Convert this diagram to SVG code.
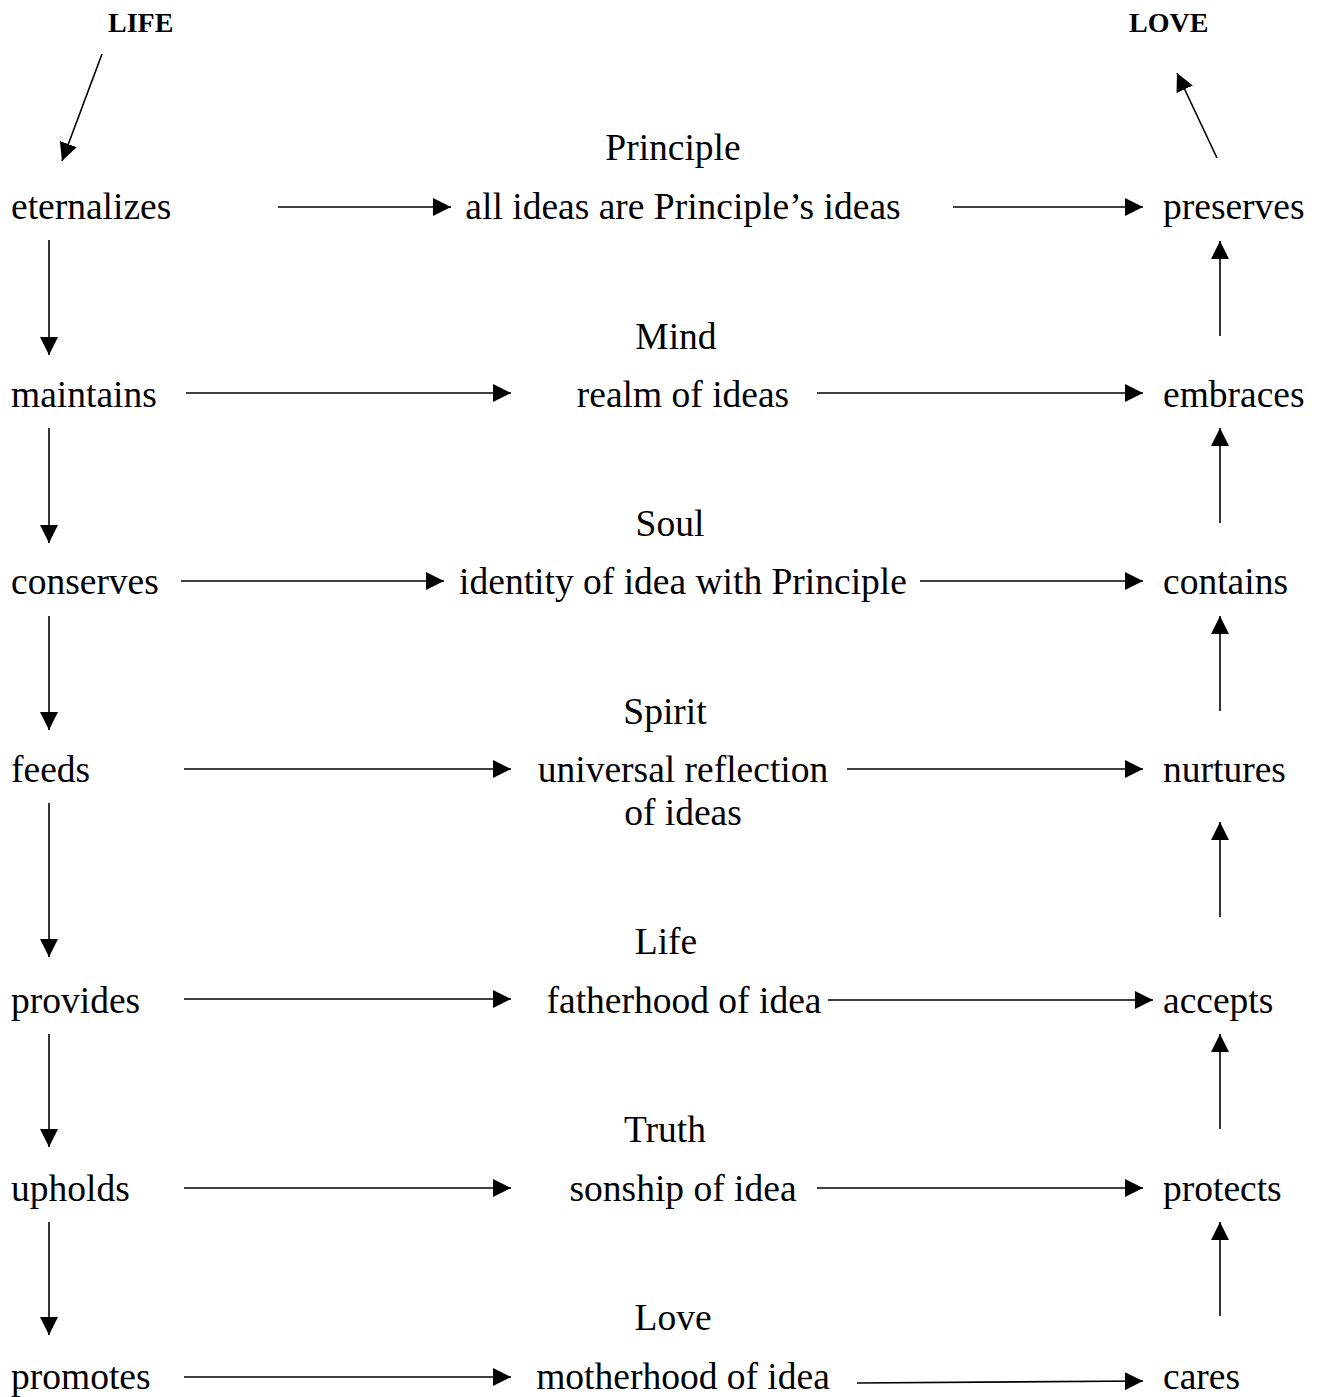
<svg xmlns="http://www.w3.org/2000/svg" width="1321" height="1397" viewBox="0 0 1321 1397">
<style>
text{font-family:"Liberation Serif","Times New Roman",serif;font-size:37.5px;fill:#000}
.b{font-weight:bold;font-size:28px}
.m{text-anchor:middle}
.c line{stroke:#000;stroke-width:1.6;fill:none;marker-end:url(#ah)}
</style>
<defs>
<marker id="ah" markerUnits="userSpaceOnUse" markerWidth="18" markerHeight="18" viewBox="0 0 16 16" refX="16" refY="8" orient="auto">
<path d="M0,0 L16,8 L0,16 z" fill="#000"/>
</marker>
</defs>
<rect width="1321" height="1397" fill="#fff"/>
<g id="heads">
<text id="LIFE" class="b" x="108" y="32">LIFE</text>
<text id="LOVE" class="b" x="1129" y="32">LOVE</text>
</g>
<g id="left">
<text id="eternalizes" x="11" y="219">eternalizes</text>
<text id="maintains" x="11" y="407">maintains</text>
<text id="conserves" x="11" y="594">conserves</text>
<text id="feeds" x="11" y="782">feeds</text>
<text id="provides" x="11" y="1013">provides</text>
<text id="upholds" x="11" y="1201">upholds</text>
<text id="promotes" x="11" y="1389">promotes</text>
</g>
<g id="middle">
<g id="n-principle"><text class="m" x="673" y="160">Principle</text><text class="m" x="683" y="219">all ideas are Principle’s ideas</text></g>
<g id="n-mind"><text class="m" x="676" y="349">Mind</text><text class="m" x="683" y="407">realm of ideas</text></g>
<g id="n-soul"><text class="m" x="670" y="536">Soul</text><text class="m" x="683" y="594">identity of idea with Principle</text></g>
<g id="n-spirit"><text class="m" x="665" y="724">Spirit</text><text class="m" x="683" y="782">universal reflection</text><text class="m" x="683" y="825">of ideas</text></g>
<g id="n-life"><text class="m" x="666" y="954">Life</text><text class="m" x="684" y="1013">fatherhood of idea</text></g>
<g id="n-truth"><text class="m" x="665" y="1142">Truth</text><text class="m" x="683" y="1201">sonship of idea</text></g>
<g id="n-love"><text class="m" x="673" y="1330">Love</text><text class="m" x="683" y="1389">motherhood of idea</text></g>
</g>
<g id="right">
<text id="preserves" x="1163" y="219">preserves</text>
<text id="embraces" x="1163" y="407">embraces</text>
<text id="contains" x="1163" y="594">contains</text>
<text id="nurtures" x="1163" y="782">nurtures</text>
<text id="accepts" x="1163" y="1013">accepts</text>
<text id="protects" x="1163" y="1201">protects</text>
<text id="cares" x="1163" y="1389">cares</text>
</g>
<g id="connectors" class="c">
<line x1="102" y1="54" x2="62" y2="161"/>
<line x1="1217" y1="158" x2="1177" y2="73"/>
<line x1="278" y1="207" x2="451" y2="207"/>
<line x1="953" y1="207" x2="1143" y2="207"/>
<line x1="186" y1="393" x2="511" y2="393"/>
<line x1="817" y1="393" x2="1143" y2="393"/>
<line x1="181" y1="581" x2="444" y2="581"/>
<line x1="920" y1="581" x2="1143" y2="581"/>
<line x1="184" y1="769" x2="511" y2="769"/>
<line x1="847" y1="769" x2="1143" y2="769"/>
<line x1="184" y1="999" x2="511" y2="999"/>
<line x1="828" y1="1000" x2="1153" y2="1000"/>
<line x1="184" y1="1188" x2="511" y2="1188"/>
<line x1="817" y1="1188" x2="1143" y2="1188"/>
<line x1="184" y1="1377" x2="511" y2="1377"/>
<line x1="857" y1="1383" x2="1143" y2="1381"/>
<line x1="49" y1="240" x2="49" y2="355"/>
<line x1="49" y1="428" x2="49" y2="543"/>
<line x1="49" y1="616" x2="49" y2="730"/>
<line x1="49" y1="803" x2="49" y2="957"/>
<line x1="49" y1="1034" x2="49" y2="1147"/>
<line x1="49" y1="1222" x2="49" y2="1335"/>
<line x1="1220" y1="336" x2="1220" y2="241"/>
<line x1="1220" y1="523" x2="1220" y2="428"/>
<line x1="1220" y1="711" x2="1220" y2="616"/>
<line x1="1220" y1="917" x2="1220" y2="822"/>
<line x1="1220" y1="1129" x2="1220" y2="1034"/>
<line x1="1220" y1="1316" x2="1220" y2="1222"/>
</g>
</svg>
